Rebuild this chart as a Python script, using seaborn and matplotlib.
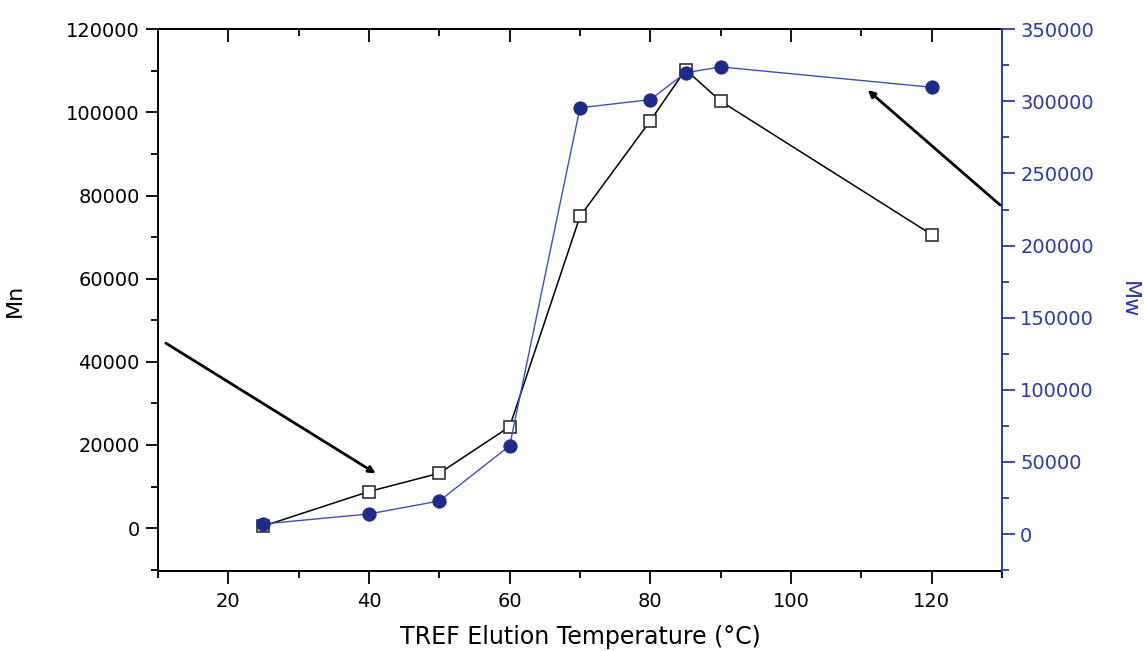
import matplotlib
matplotlib.use('Agg')
import matplotlib.pyplot as plt
import seaborn as sns
import pandas as pd
from matplotlib.ticker import MultipleLocator

# 資料
temperature = [25, 40, 50, 60, 70, 80, 85, 90, 120]
mn_values = [500, 8800, 13200, 24400, 75000, 98000, 110300, 102700, 70600]
mw_values = [7000, 13900, 22900, 61200, 295600, 301200, 319900, 323900, 309800]

x_ticks = [20, 40, 60, 80, 100, 120]
mn_ticks = [0, 20000, 40000, 60000, 80000, 100000, 120000]
mw_ticks = [0, 50000, 100000, 150000, 200000, 250000, 300000, 350000]

blue = '#3038a8'
navy = '#1f2a8a'

sns.set_style('white')
plt.rcParams['font.family'] = ['DejaVu Sans']
plt.rcParams['text.color'] = 'black'
plt.rcParams['axes.labelcolor'] = 'black'
plt.rcParams['xtick.color'] = 'black'
plt.rcParams['ytick.color'] = 'black'

df = pd.DataFrame({'T': temperature, 'Mn': mn_values, 'Mw': mw_values})

fig = plt.figure(figsize=(11.44, 6.51), dpi=100)
ax = fig.add_axes([0.138, 0.123, 0.738, 0.832])

sns.lineplot(data=df, x='T', y='Mn', ax=ax, color='black', linewidth=1.1,
             marker='s', markersize=8, markerfacecolor='white',
             markeredgecolor='#222222', markeredgewidth=1.1)

ax2 = ax.twinx()
sns.lineplot(data=df, x='T', y='Mw', ax=ax2, color='#4050c0', linewidth=1.0,
             marker='o', markersize=9.5, markerfacecolor=navy,
             markeredgecolor=navy)

ax.set_xlim(10, 130)
ax.set_ylim(-10300, 120000)
ax2.set_ylim(-25600, 350000)

ax.set_xticks(x_ticks)
ax.set_yticks(mn_ticks)
ax2.set_yticks(mw_ticks)
ax.xaxis.set_minor_locator(MultipleLocator(10))
ax.yaxis.set_minor_locator(MultipleLocator(10000))
ax2.yaxis.set_minor_locator(MultipleLocator(25000))

ax.tick_params(axis='x', which='major', direction='out', length=9, width=1.3,
               labelsize=14, pad=6, top=False, bottom=True)
ax.tick_params(axis='x', which='minor', direction='out', length=5, width=1.3,
               top=False, bottom=True)
ax.tick_params(axis='y', which='major', direction='out', length=9, width=1.3,
               labelsize=14, pad=4, left=True, right=False)
ax.tick_params(axis='y', which='minor', direction='out', length=5, width=1.3,
               left=True, right=False)
ax2.tick_params(axis='y', which='major', direction='out', length=9, width=1.3,
                labelsize=14, pad=4, colors=blue, right=True)
ax2.tick_params(axis='y', which='minor', direction='out', length=5, width=1.3,
                colors=blue, right=True)

# 上方刻度朝內
top = ax.secondary_xaxis('top')
top.set_xticks(x_ticks)
top.xaxis.set_minor_locator(MultipleLocator(10))
top.tick_params(axis='x', which='major', direction='in', length=9, width=1.3,
                labeltop=False)
top.tick_params(axis='x', which='minor', direction='in', length=5, width=1.3)
top.spines['top'].set_linewidth(1.4)

for s in ['left', 'bottom', 'top']:
    ax.spines[s].set_linewidth(1.4)
    ax.spines[s].set_color('black')
ax.spines['right'].set_visible(False)
for s in ['left', 'bottom', 'top']:
    ax2.spines[s].set_visible(False)
ax2.spines['right'].set_color(blue)
ax2.spines['right'].set_linewidth(1.4)

ax.set_xlabel('TREF Elution Temperature (°C)', fontsize=17, labelpad=10)
ax.set_ylabel('Mn', fontsize=16, labelpad=30)
ax2.set_ylabel('Mw', fontsize=16, color=blue, rotation=270, labelpad=32)

# 箭頭
ax.annotate('', xy=(41.3, 12800), xytext=(10.8, 44850),
            arrowprops=dict(arrowstyle='-|>', color='black', lw=2,
                            mutation_scale=10), annotation_clip=False)
ax.annotate('', xy=(110.6, 105800), xytext=(130, 77300),
            arrowprops=dict(arrowstyle='-|>', color='black', lw=2,
                            mutation_scale=10), annotation_clip=False)

fig.savefig('out.png', dpi=100)
